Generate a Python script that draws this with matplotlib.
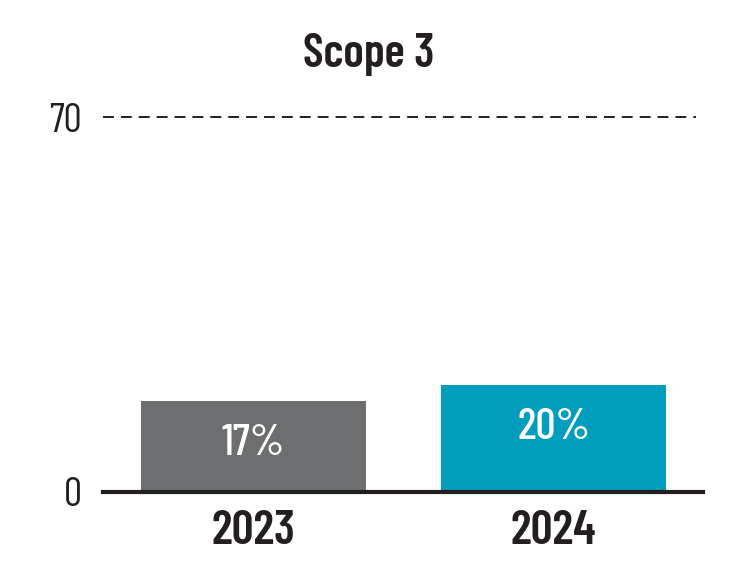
import matplotlib
matplotlib.use("Agg")
import matplotlib.pyplot as plt

# chart data
years = ["2023", "2024"]
shares = [17, 20]
bar_colors = ["#6d6e70", "#009dbd"]
y_ticks = [0, 70]

plt.rcParams["font.family"] = ["Barlow Condensed", "DejaVu Sans"]
ink = "#231f20"

fig = plt.figure(figsize=(7.49, 5.74), dpi=100)
ax = fig.add_axes([103 / 749, 82 / 574, 600 / 749, 375 / 574])

x = range(len(years))
ax.bar(x, shares, width=0.75, color=bar_colors, zorder=2)
ax.set_xlim(-0.502, 1.498)
ax.set_ylim(0, 70)

# dashed line at the top value, heavy baseline at zero
ax.plot([-0.502, 1.474], [70, 70], color=ink, lw=1.4,
        dashes=(5.6, 3.6), clip_on=False)
ax.axhline(0, color=ink, lw=3, zorder=3, clip_on=False)

for xi, v in zip(x, shares):
    ax.annotate(f"{v}%", (xi, v), xytext=(0, -31), textcoords="offset points",
                ha="center", va="center", color="white", fontsize=32, fontweight=500)

for s in ax.spines.values():
    s.set_visible(False)
ax.set_xticks(list(x))
ax.set_xticklabels(years, fontsize=35, fontweight=600, color=ink)
ax.set_yticks(y_ticks)
ax.set_yticklabels([str(t) for t in y_ticks], fontsize=29, color=ink)
ax.tick_params(length=0)
ax.tick_params(axis="x", pad=13)
ax.tick_params(axis="y", pad=15)

fig.text(369 / 749, 1 - 55 / 574, "Scope 3", ha="center", va="center",
         fontsize=34, fontweight=600, color=ink)

fig.savefig("out.png", dpi=100)
